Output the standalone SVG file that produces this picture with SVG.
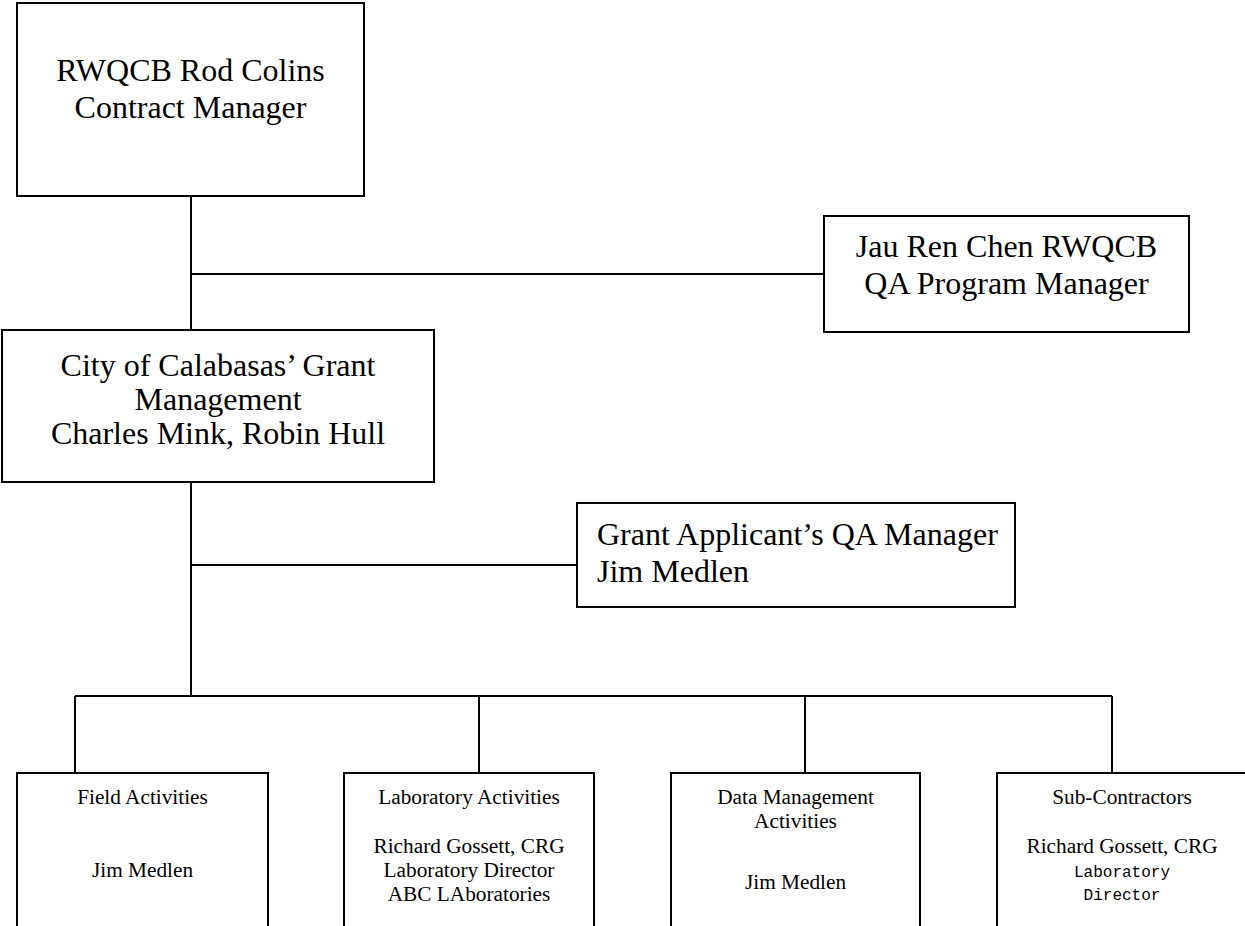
<svg xmlns="http://www.w3.org/2000/svg" width="1245" height="926" viewBox="0 0 1245 926">
<style>
.box{fill:#fff;stroke:#000;stroke-width:2}
.ln{fill:none;stroke:#000;stroke-width:2}
.big{font-family:"Liberation Serif","Times New Roman",serif;font-size:32px;fill:#000}
.sm{font-family:"Liberation Serif","Times New Roman",serif;font-size:21.3px;fill:#000}
.mono{font-family:"Liberation Mono","Courier New",monospace;font-size:16px;fill:#000}
.c{text-anchor:middle}
</style>
<rect width="1245" height="926" fill="#fff"/>
<g id="connectors">
<path class="ln" d="M191 196V330M191 274H824M191 482V696M191 565H577M75 696H1112M75 696V773M479 696V773M805 696V773M1112 696V773"/>
</g>
<g id="rwqcb">
<rect class="box" x="17" y="3" width="347" height="193"/>
<text class="big c" x="190.5" y="81">RWQCB Rod Colins</text>
<text class="big c" x="190.5" y="118">Contract Manager</text>
</g>
<g id="jauren">
<rect class="box" x="824" y="216" width="365" height="116"/>
<text class="big c" x="1006.5" y="257">Jau Ren Chen RWQCB</text>
<text class="big c" x="1006.5" y="294">QA Program Manager</text>
</g>
<g id="city">
<rect class="box" x="2" y="330" width="432" height="152"/>
<text class="big c" x="218" y="376">City of Calabasas’ Grant</text>
<text class="big c" x="218" y="410">Management</text>
<text class="big c" x="218" y="444">Charles Mink, Robin Hull</text>
</g>
<g id="grantqa">
<rect class="box" x="577" y="503" width="438" height="104"/>
<text class="big" x="597" y="545">Grant Applicant’s QA Manager</text>
<text class="big" x="597" y="582">Jim Medlen</text>
</g>
<g id="field">
<rect class="box" x="17" y="773" width="251" height="170"/>
<text class="sm c" x="142.5" y="804">Field Activities</text>
<text class="sm c" x="142.5" y="877">Jim Medlen</text>
</g>
<g id="lab">
<rect class="box" x="344" y="773" width="250" height="170"/>
<text class="sm c" x="469" y="804">Laboratory Activities</text>
<text class="sm c" x="469" y="853">Richard Gossett, CRG</text>
<text class="sm c" x="469" y="877">Laboratory Director</text>
<text class="sm c" x="469" y="901">ABC LAboratories</text>
</g>
<g id="data">
<rect class="box" x="671" y="773" width="249" height="170"/>
<text class="sm c" x="795.5" y="804">Data Management</text>
<text class="sm c" x="795.5" y="828">Activities</text>
<text class="sm c" x="795.5" y="889">Jim Medlen</text>
</g>
<g id="sub">
<rect class="box" x="997" y="773" width="260" height="170"/>
<text class="sm c" x="1122" y="804">Sub-Contractors</text>
<text class="sm c" x="1122" y="853">Richard Gossett, CRG</text>
<text class="mono c" x="1122" y="877">Laboratory</text>
<text class="mono c" x="1122" y="900">Director</text>
</g>
</svg>
